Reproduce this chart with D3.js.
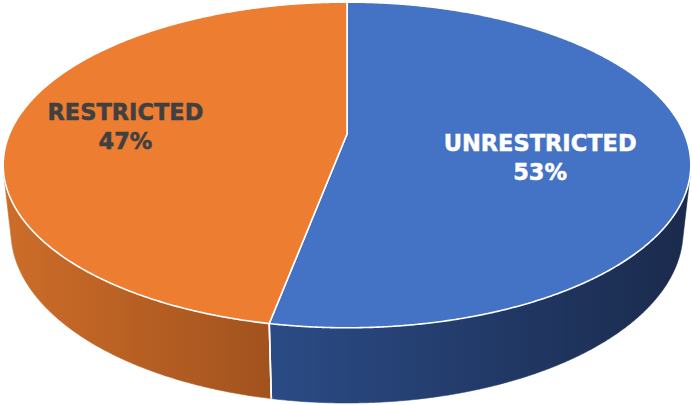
<!DOCTYPE html>
<html>
<head>
<meta charset="utf-8">
<script src="https://cdn.jsdelivr.net/npm/d3@7"></script>
<style>
  html, body { margin: 0; padding: 0; background: #fff; }
  svg { display: block; }
</style>
</head>
<body>
<script>
// chart data
const categories = ['UNRESTRICTED', 'RESTRICTED']
const values = [53, 47]
const labels = ['53%', '47%']

const width = 692, height = 405

// 3d view settings
const cx = 347, cy = 134          // where the pie centre lands on screen
const D = 4.66                    // camera distance (in radius units)
const tilt = Math.asin(0.465)     // camera tilt
const F = 1573                    // focal length in px
const H = 0.224                   // pie thickness

const topColors = ['#4472C4', '#ED7D31']
const sideColors = [['#2B4B86', '#1A2A4C'], ['#CD6D29', '#A2521E']]
const textColors = ['#ffffff', '#404040']
// label placement: angle nudge (rad) and radius fraction
const labelPos = [{ da: 0.16, r: 0.575 }, { da: -0.015, r: 0.665 }]

const svg = d3.select('body').append('svg')
    .attr('width', width)
    .attr('height', height)

// project a point on the disc: angle clockwise from the back, radius fraction, height
function project(phi, r, yw) {
    const X = r * Math.sin(phi), Z = -r * Math.cos(phi)
    const yc = Z * Math.sin(tilt) - yw * Math.cos(tilt)
    const d = D - (Z * Math.cos(tilt) + yw * Math.sin(tilt))
    return [cx + F * X / d, cy + F * yc / d]
}

function arcPoints(a0, a1, yw) {
    const n = Math.max(2, Math.ceil(Math.abs(a1 - a0) / 0.005))
    return d3.range(n + 1).map(i => project(a0 + (a1 - a0) * i / n, 1, yw))
}

const pie = d3.pie().sort(null).value(d => d)
const arcs = pie(values)

// side is only seen where the wall faces the camera
const z0 = 1 / (D * Math.cos(tilt))
const visStart = Math.acos(-z0), visEnd = 2 * Math.PI - Math.acos(-z0)

const defs = svg.append('defs')
const line = d3.line()

// sides
arcs.forEach((a, i) => {
    const s = Math.max(a.startAngle, visStart)
    const e = Math.min(a.endAngle, visEnd)
    if (e <= s) return
    const top = arcPoints(s, e, 0)
    const bot = arcPoints(e, s, -H)
    const xs = top.concat(bot).map(p => p[0])

    const grad = defs.append('linearGradient')
        .attr('id', 'side' + i)
        .attr('gradientUnits', 'userSpaceOnUse')
        .attr('x1', d3.min(xs)).attr('y1', 0)
        .attr('x2', d3.max(xs)).attr('y2', 0)
    grad.append('stop').attr('offset', 0).attr('stop-color', sideColors[i][0])
    grad.append('stop').attr('offset', 1).attr('stop-color', sideColors[i][1])

    svg.append('path')
        .attr('d', line(top.concat(bot)) + 'Z')
        .attr('fill', 'url(#side' + i + ')')
        .attr('stroke', 'url(#side' + i + ')')
        .attr('stroke-width', 0.6)
})

// white edge where the two walls meet
arcs.forEach(a => {
    [a.startAngle, a.endAngle].forEach(ang => {
        if (ang > visStart && ang < visEnd) {
            svg.append('path')
                .attr('d', line([project(ang, 1, 0), project(ang, 1, -H)]))
                .attr('stroke', '#ffffff')
                .attr('stroke-width', 1.6)
        }
    })
})

// top faces
arcs.forEach((a, i) => {
    const pts = [project(0, 0, 0)].concat(arcPoints(a.startAngle, a.endAngle, 0))
    svg.append('path')
        .attr('d', line(pts) + 'Z')
        .attr('fill', topColors[i])
        .attr('stroke', '#ffffff')
        .attr('stroke-width', 1.6)
        .attr('stroke-linejoin', 'round')
})

// labels
arcs.forEach((a, i) => {
    const mid = (a.startAngle + a.endAngle) / 2 + labelPos[i].da
    const p = project(mid, labelPos[i].r, 0)
    const t = svg.append('text')
        .attr('text-anchor', 'middle')
        .attr('font-family', 'DejaVu Sans, sans-serif')
        .attr('font-weight', 'bold')
        .attr('font-size', 22.5)
        .attr('fill', textColors[i])
        .attr('stroke', textColors[i])
        .attr('stroke-width', 0.5)
    t.append('tspan').attr('x', p[0]).attr('y', p[1] - 6).text(categories[i])
    t.append('tspan').attr('x', p[0]).attr('y', p[1] + 23).text(labels[i])
})
</script>
</body>
</html>
